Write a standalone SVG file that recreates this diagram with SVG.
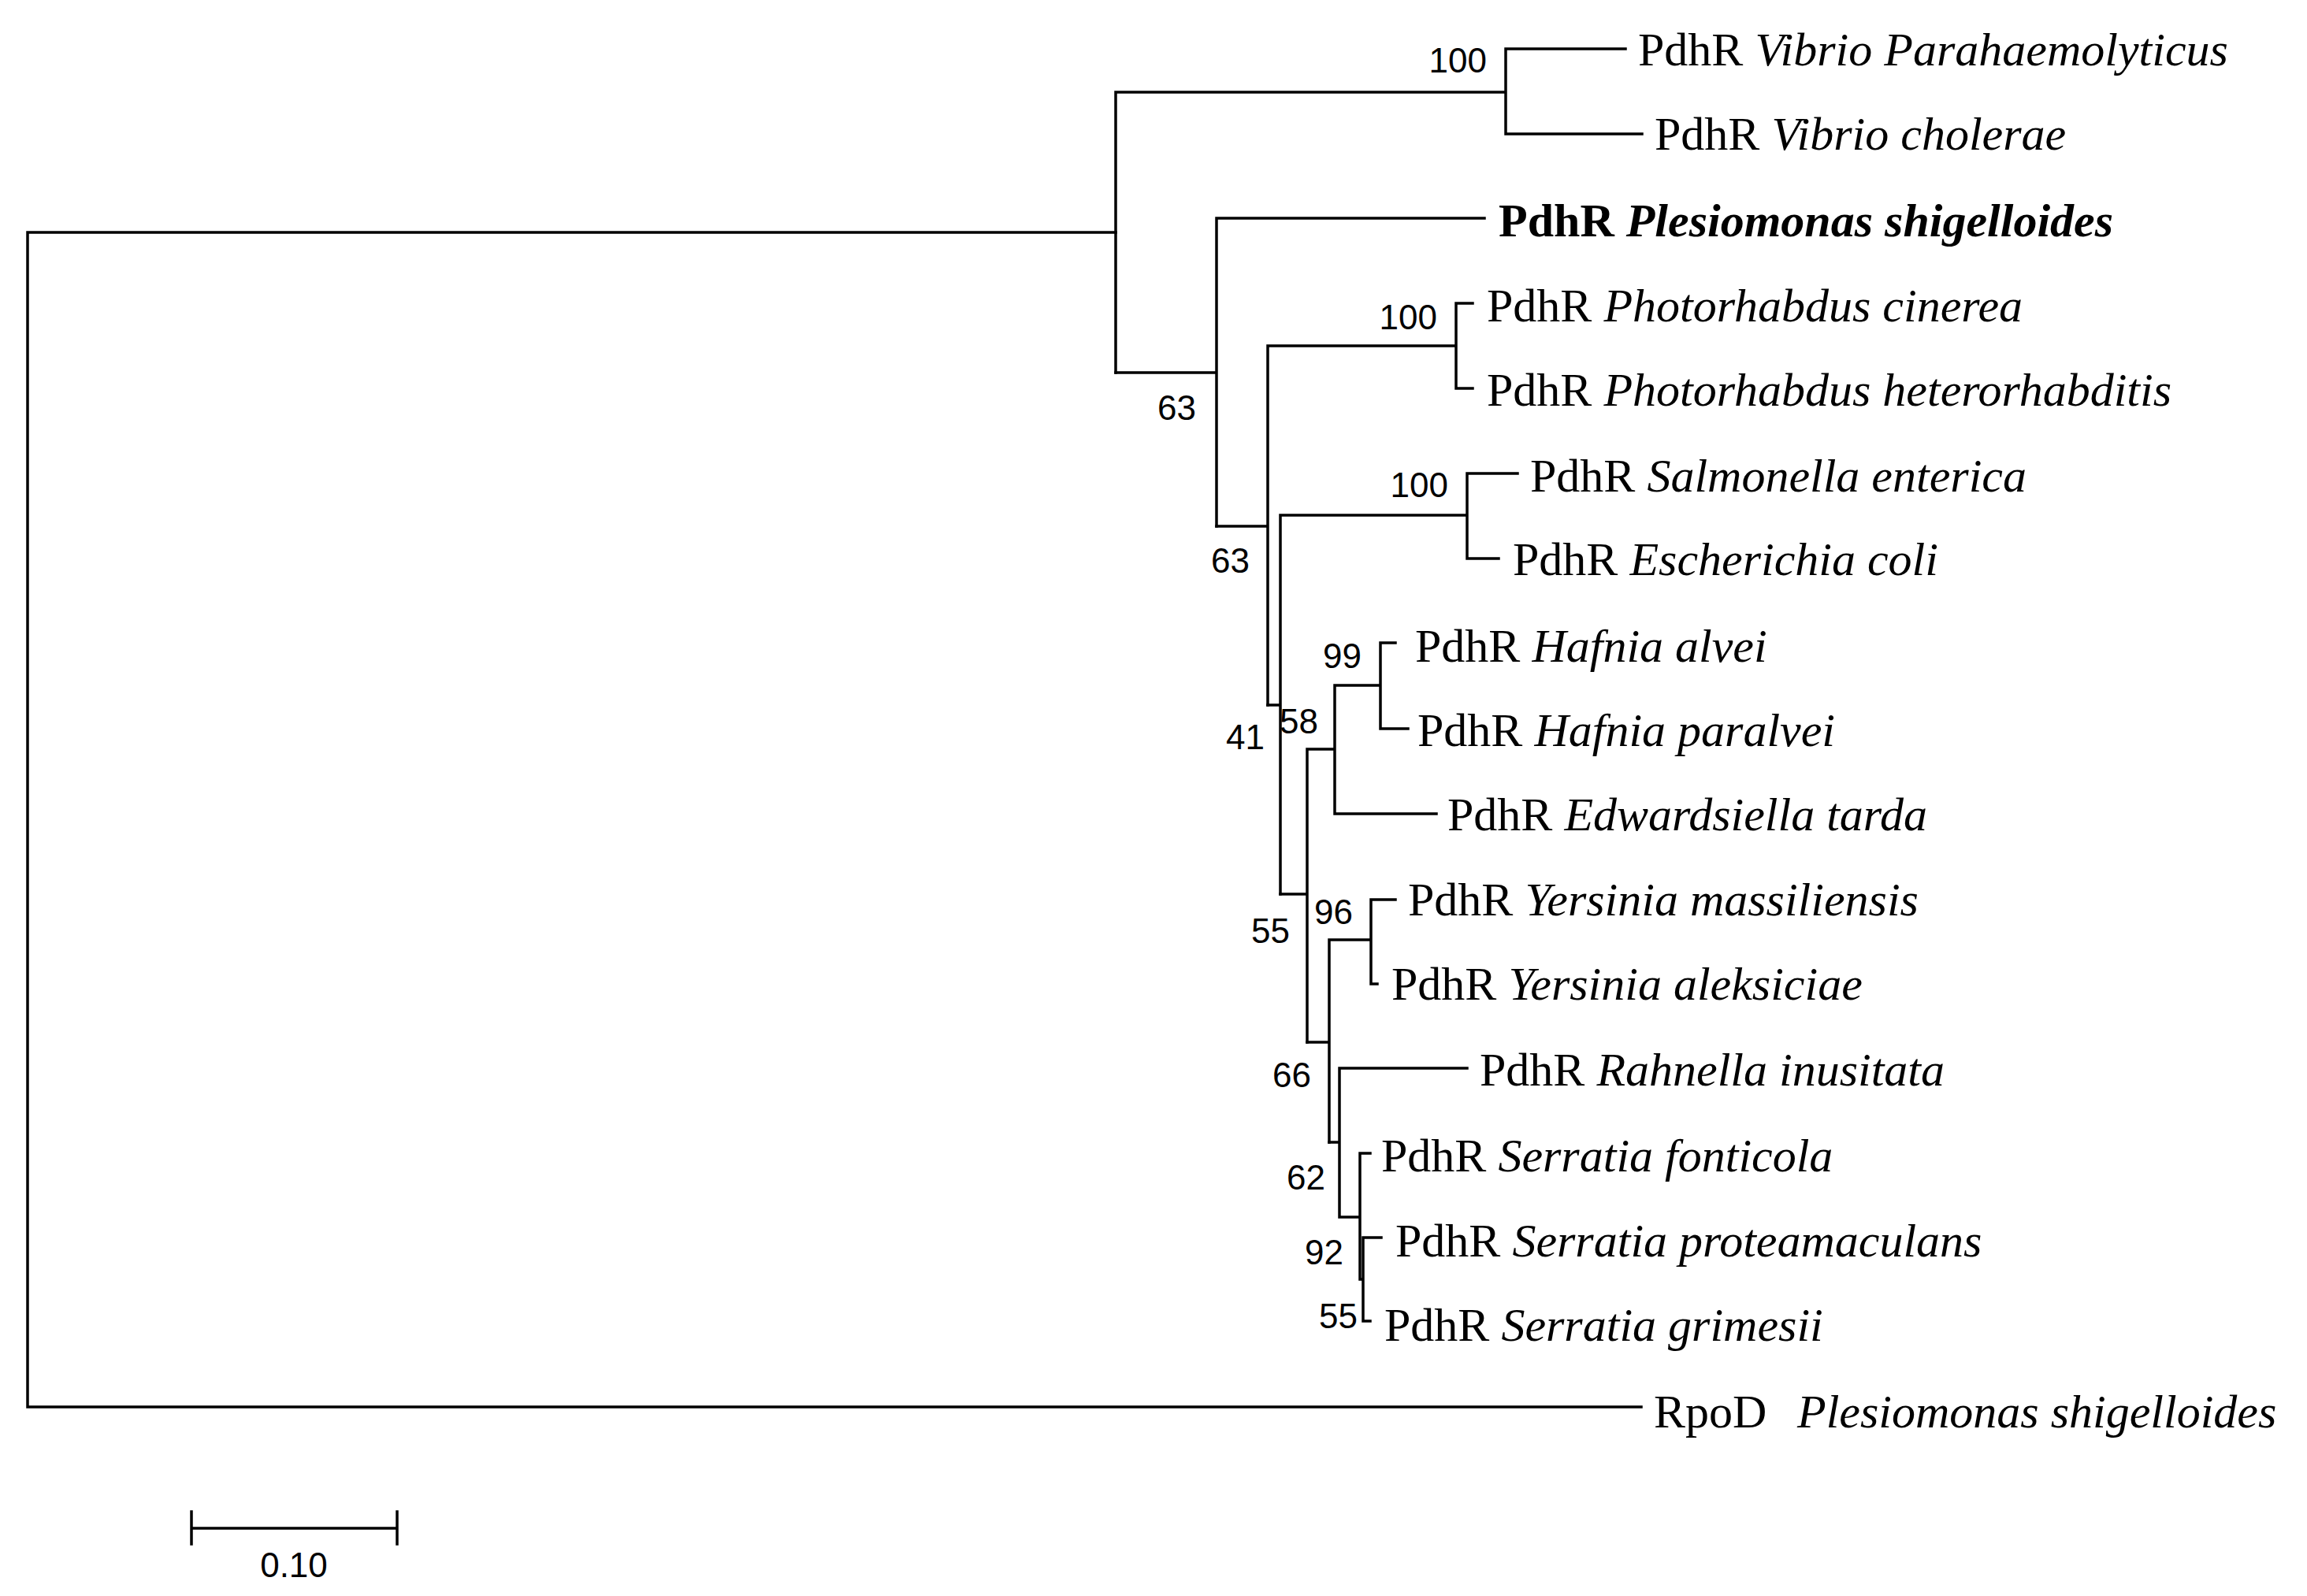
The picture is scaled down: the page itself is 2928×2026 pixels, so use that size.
<svg xmlns="http://www.w3.org/2000/svg" width="2928" height="2026" viewBox="0 0 2928 2026">
<style>
.e{fill:none;stroke:#000;stroke-width:3.5;stroke-linecap:square}
.t{font-family:"Liberation Serif",serif;font-size:60px;fill:#000}
.i{font-style:italic}
.b{font-family:"Liberation Sans",sans-serif;font-size:44px;fill:#000;text-anchor:end}
</style>
<rect width="2928" height="2026" fill="#fff"/>
<g id="edges" class="e">
<path d="M35,295V1786M35,295H1416M35,1786H2083"/>
<path d="M1416,117V473M1416,117H1911M1911,62V170M1911,62H2063M1911,170H2084"/>
<path d="M1416,473H1544M1544,277V668M1544,277H1884"/>
<path d="M1544,668H1609M1609,439V895M1609,439H1848M1848,385V493M1848,385H1869M1848,493H1869"/>
<path d="M1609,895H1625M1625,654V1135M1625,654H1862M1862,601V709M1862,601H1926M1862,709H1902"/>
<path d="M1625,1135H1659M1659,951V1323M1659,951H1694M1694,870V1033M1694,1033H1823M1694,870H1752M1752,816V925M1752,816H1771M1752,925H1787"/>
<path d="M1659,1323H1687M1687,1193V1450M1687,1193H1740M1740,1142V1249M1740,1142H1771M1740,1249H1748"/>
<path d="M1687,1450H1700M1700,1356V1545M1700,1356H1862M1700,1545H1726M1726,1464V1624M1726,1464H1739M1726,1624H1730M1730,1571V1677M1730,1571H1753M1730,1677H1739"/>
<path d="M243,1940H504M243,1919V1960M504,1919V1960"/>
</g>
<g id="leaves" class="t">
<text x="2079" y="83">PdhR <tspan class="i">Vibrio Parahaemolyticus</tspan></text>
<text x="2100" y="190">PdhR <tspan class="i">Vibrio cholerae</tspan></text>
<text x="1902" y="300" font-weight="bold">PdhR <tspan class="i">Plesiomonas shigelloides</tspan></text>
<text x="1887" y="408">PdhR <tspan class="i">Photorhabdus cinerea</tspan></text>
<text x="1887" y="515">PdhR <tspan class="i">Photorhabdus heterorhabditis</tspan></text>
<text x="1942" y="624">PdhR <tspan class="i">Salmonella enterica</tspan></text>
<text x="1920" y="730">PdhR <tspan class="i">Escherichia coli</tspan></text>
<text x="1796" y="840">PdhR <tspan class="i">Hafnia alvei</tspan></text>
<text x="1799" y="947">PdhR <tspan class="i">Hafnia paralvei</tspan></text>
<text x="1837" y="1054">PdhR <tspan class="i">Edwardsiella tarda</tspan></text>
<text x="1787" y="1162">PdhR <tspan class="i">Yersinia massiliensis</tspan></text>
<text x="1766" y="1269">PdhR <tspan class="i">Yersinia aleksiciae</tspan></text>
<text x="1878" y="1378">PdhR <tspan class="i">Rahnella inusitata</tspan></text>
<text x="1753" y="1487">PdhR <tspan class="i">Serratia fonticola</tspan></text>
<text x="1771" y="1595">PdhR <tspan class="i">Serratia proteamaculans</tspan></text>
<text x="1757" y="1702">PdhR <tspan class="i">Serratia grimesii</tspan></text>
<text x="2099" y="1812">RpoD <tspan x="2281" class="i">Plesiomonas shigelloides</tspan></text>
</g>
<g id="bootstrap" class="b">
<text x="1887" y="92">100</text>
<text x="1518" y="533">63</text>
<text x="1824" y="418">100</text>
<text x="1586" y="727">63</text>
<text x="1838" y="631">100</text>
<text x="1728" y="848">99</text>
<text x="1673" y="931">58</text>
<text x="1605" y="951">41</text>
<text x="1637" y="1197">55</text>
<text x="1717" y="1173">96</text>
<text x="1664" y="1380">66</text>
<text x="1682" y="1510">62</text>
<text x="1705" y="1605">92</text>
<text x="1723" y="1686">55</text>
<text x="373" y="2002" text-anchor="middle">0.10</text>
</g>
</svg>
